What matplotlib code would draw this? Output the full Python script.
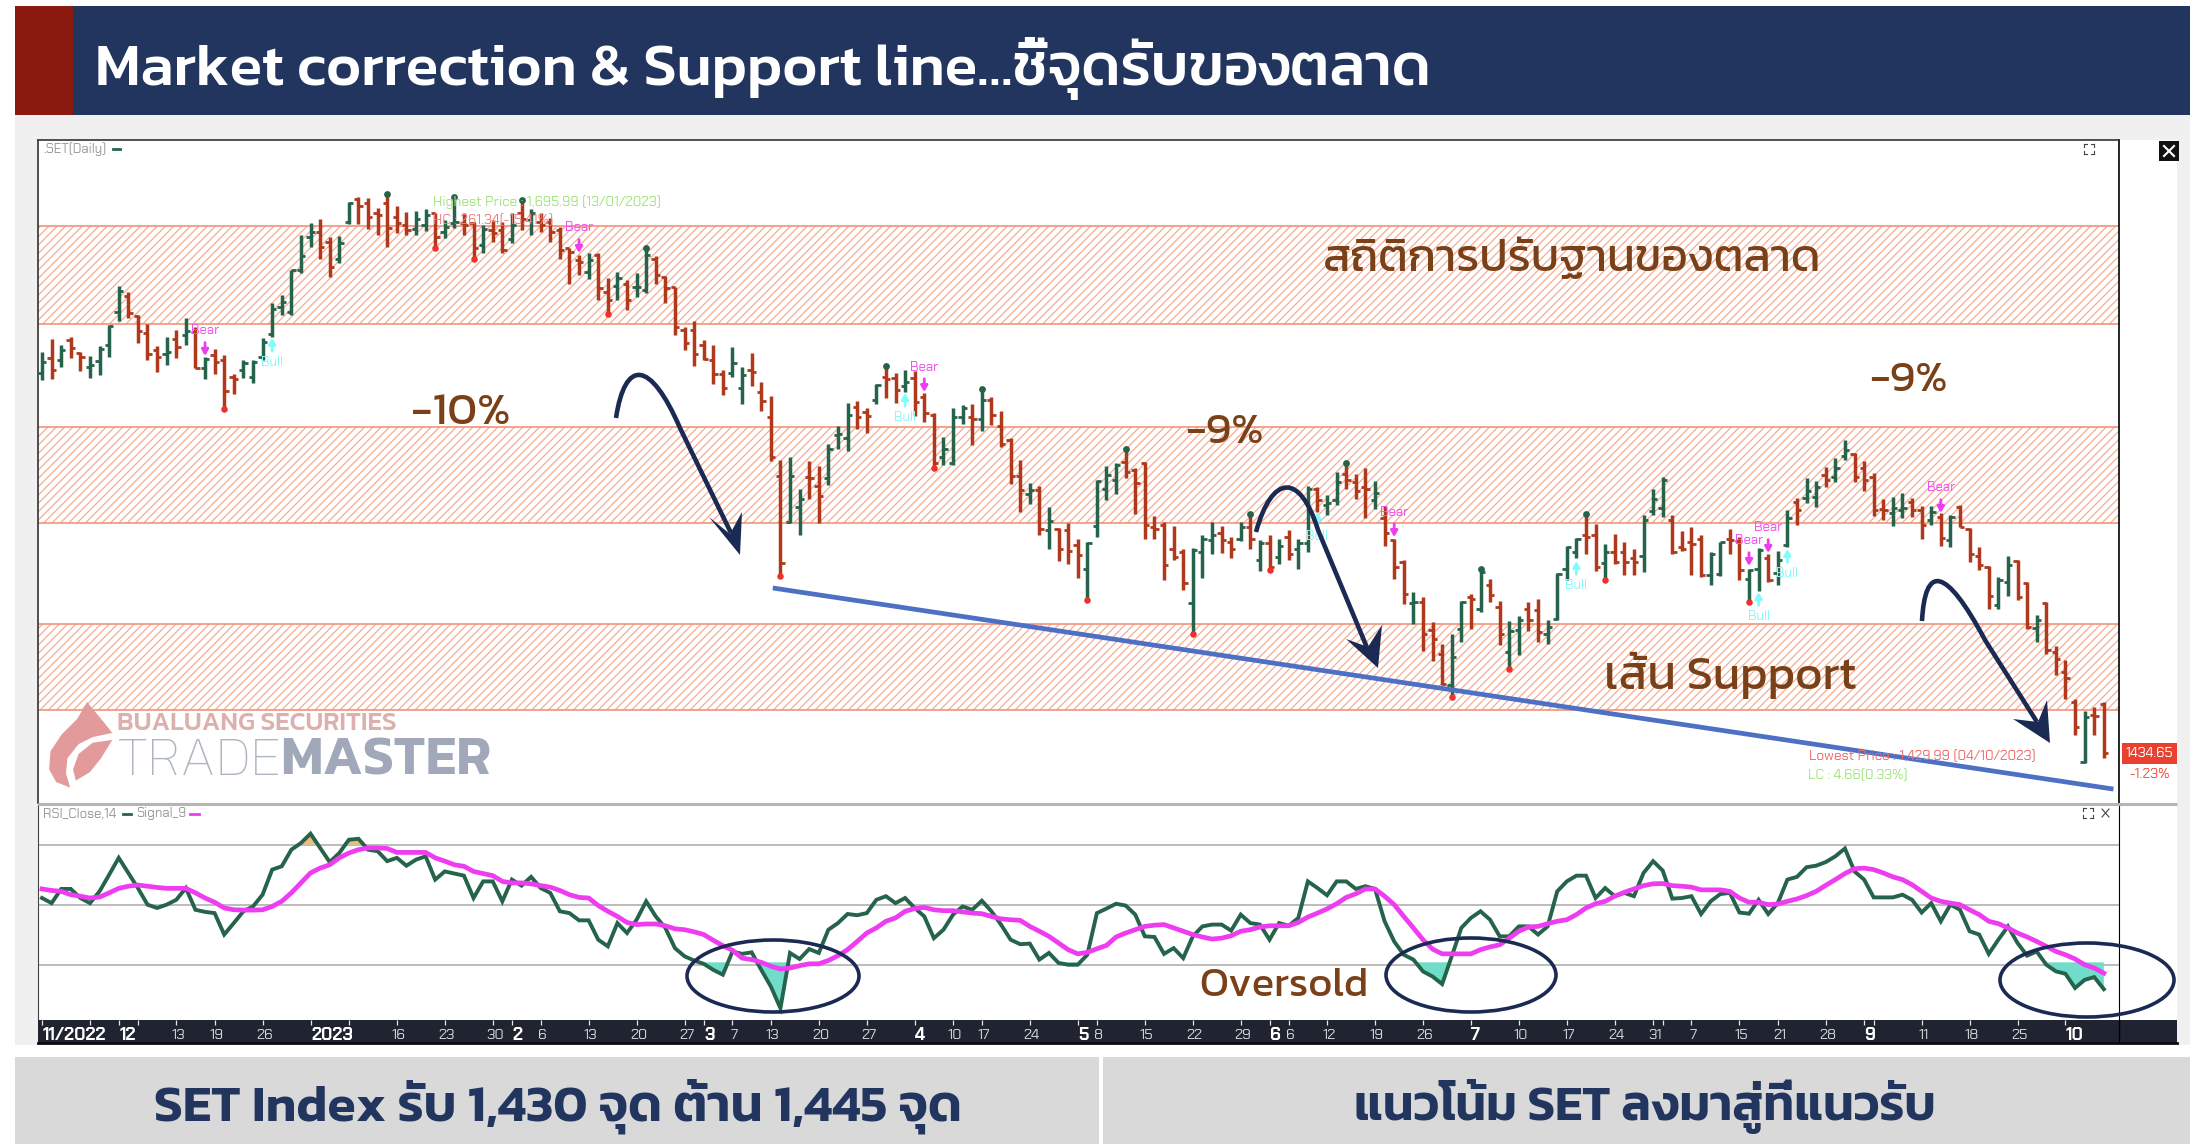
import matplotlib
matplotlib.use("Agg")
import matplotlib.pyplot as plt
import numpy as np
from matplotlib.patches import Ellipse, PathPatch, Polygon, Rectangle
from matplotlib.path import Path

FONT = ["Kanit", "Noto Sans", "DejaVu Sans"]
SMALL_FONT = ["Chakra Petch", "Roboto", "DejaVu Sans"]
plt.rcParams["font.family"] = FONT
plt.rcParams["hatch.linewidth"] = 0.9

W, H = 2202, 1144
NAVY = "#22355f"
ARROW_NAVY = "#1b2a52"
BROWN = "#7a4119"
GREEN = "#25634a"
RED = "#b0391b"
MAGENTA = "#ee3cf0"
CYAN = "#7ffcfc"

# open, high, low, close of the daily bars
OPENS = [
    1612.3, 1619.3, 1618.6, 1627.9, 1621.7, 1615.1, 1618.0, 1625.3, 1640.9, 1648.2, 1638.9, 1631.2,
    1623.0, 1621.4, 1628.4, 1630.0, 1631.5, 1614.4, 1620.6, 1618.3, 1610.5, 1613.6, 1610.5, 1619.8,
    1630.7, 1643.2, 1640.9, 1660.4, 1675.7, 1678.3, 1673.6, 1665.8, 1683.0, 1693.5, 1691.6, 1686.9,
    1691.9, 1685.0, 1681.4, 1679.4, 1681.4, 1686.9, 1678.3, 1682.2, 1682.5, 1682.2, 1672.1, 1679.1,
    1679.1, 1674.7, 1686.9, 1683.8, 1683.0, 1683.0, 1679.1, 1670.5, 1665.1, 1659.6, 1667.4, 1650.2,
    1652.9, 1654.1, 1652.3, 1651.0, 1665.8, 1657.3, 1652.6, 1632.3, 1632.3, 1625.3, 1618.3, 1612.0,
    1612.1, 1605.1, 1613.7, 1603.5, 1591.8, 1564.0, 1542.7, 1549.7, 1563.7, 1559.4, 1563.4, 1583.2,
    1581.7, 1596.5, 1594.2, 1599.9, 1610.5, 1609.8, 1606.2, 1609.8, 1601.2, 1592.6, 1572.8, 1570.0,
    1591.8, 1591.8, 1591.0, 1599.6, 1587.5, 1580.9, 1564.0, 1555.9, 1557.5, 1538.8, 1539.6, 1538.8,
    1531.8, 1520.9, 1540.7, 1558.3, 1562.2, 1570.8, 1566.9, 1570.0, 1540.4, 1541.2, 1530.2, 1528.7,
    1505.0, 1528.7, 1534.1, 1537.3, 1533.4, 1534.9, 1540.4, 1524.8, 1532.6, 1526.3, 1535.7, 1530.2,
    1532.6, 1558.3, 1550.5, 1552.9, 1565.3, 1561.4, 1559.1, 1552.9, 1544.3, 1534.1, 1524.0, 1504.8,
    1505.3, 1492.0, 1481.1, 1466.3, 1492.8, 1507.6, 1502.2, 1513.1, 1503.0, 1481.9, 1492.3, 1502.2,
    1501.4, 1490.5, 1497.5, 1520.9, 1528.7, 1536.5, 1536.5, 1523.5, 1528.7, 1528.7, 1525.6, 1526.7,
    1547.9, 1549.4, 1543.5, 1531.0, 1533.4, 1534.9, 1517.8, 1518.5, 1534.9, 1533.8, 1516.2, 1520.9,
    1525.6, 1518.6, 1531.9, 1552.2, 1553.7, 1554.5, 1564.6, 1563.9, 1573.5, 1574.5, 1567.8, 1563.9,
    1548.6, 1546.7, 1548.3, 1552.2, 1548.3, 1543.6, 1545.1, 1534.2, 1549.8, 1539.4, 1526.7, 1521.7,
    1503.8, 1514.7, 1524.6, 1513.9, 1492.9, 1504.6, 1482.0, 1472.6, 1458.6, 1430.5, 1452.3, 1457.8,
]
HIGHS = [
    1622.2, 1628.2, 1625.3, 1629.2, 1622.2, 1620.1, 1625.0, 1634.6, 1652.9, 1650.2, 1639.6, 1635.4,
    1625.0, 1629.2, 1632.6, 1638.2, 1633.9, 1619.8, 1623.7, 1620.6, 1612.0, 1618.3, 1618.6, 1628.7,
    1645.1, 1648.7, 1660.4, 1677.0, 1682.5, 1684.1, 1675.7, 1676.4, 1692.4, 1694.7, 1693.9, 1689.2,
    1695.99, 1690.3, 1687.7, 1688.1, 1688.8, 1687.2, 1683.8, 1694.4, 1686.9, 1683.0, 1681.4, 1683.8,
    1683.0, 1686.9, 1693.1, 1688.8, 1686.9, 1684.6, 1680.7, 1670.5, 1667.4, 1668.5, 1668.5, 1656.5,
    1659.6, 1655.7, 1658.8, 1670.5, 1666.9, 1657.6, 1652.6, 1633.9, 1636.7, 1627.9, 1625.3, 1613.6,
    1624.3, 1615.2, 1621.5, 1608.2, 1601.6, 1571.8, 1572.8, 1558.3, 1571.2, 1569.0, 1579.3, 1587.5,
    1598.1, 1599.3, 1595.7, 1607.1, 1615.5, 1612.4, 1613.7, 1613.3, 1603.1, 1593.7, 1582.5, 1595.7,
    1597.3, 1597.6, 1604.6, 1600.9, 1594.5, 1581.7, 1571.8, 1560.9, 1559.5, 1549.7, 1540.0, 1542.2,
    1534.9, 1533.4, 1562.2, 1568.8, 1570.0, 1577.0, 1567.7, 1570.8, 1545.5, 1542.7, 1540.7, 1530.2,
    1530.7, 1536.5, 1542.7, 1540.7, 1535.7, 1542.7, 1546.6, 1534.1, 1536.5, 1534.5, 1539.1, 1534.5,
    1559.4, 1559.1, 1555.2, 1566.1, 1570.0, 1565.3, 1567.7, 1561.9, 1550.2, 1534.5, 1524.8, 1510.0,
    1507.6, 1495.9, 1485.5, 1490.5, 1505.7, 1509.2, 1520.9, 1515.9, 1505.7, 1496.4, 1498.6, 1505.3,
    1506.8, 1496.7, 1518.9, 1531.3, 1535.4, 1546.6, 1541.6, 1532.3, 1536.9, 1533.4, 1530.2, 1545.8,
    1558.3, 1563.8, 1545.8, 1538.5, 1540.1, 1536.5, 1528.4, 1533.4, 1539.6, 1535.7, 1520.9, 1530.7,
    1527.9, 1529.2, 1548.3, 1553.7, 1563.4, 1561.8, 1568.2, 1572.4, 1581.0, 1575.1, 1571.3, 1565.4,
    1553.2, 1554.5, 1556.4, 1553.7, 1550.1, 1550.1, 1547.0, 1545.9, 1550.6, 1539.7, 1531.1, 1522.0,
    1517.0, 1526.7, 1524.9, 1514.7, 1499.1, 1505.4, 1484.6, 1478.0, 1460.1, 1454.3, 1456.2, 1458.6,
]
LOWS = [
    1609.2, 1609.5, 1615.1, 1619.3, 1613.3, 1610.1, 1611.2, 1619.8, 1636.7, 1637.8, 1626.1, 1618.6,
    1612.8, 1615.9, 1619.2, 1625.6, 1614.4, 1609.7, 1612.0, 1595.6, 1602.7, 1610.1, 1607.7, 1618.3,
    1628.9, 1639.3, 1639.6, 1659.1, 1671.3, 1665.8, 1657.0, 1663.5, 1681.9, 1681.9, 1679.4, 1677.0,
    1671.3, 1677.5, 1676.8, 1676.8, 1678.6, 1670.5, 1675.2, 1679.9, 1676.8, 1665.8, 1668.2, 1673.6,
    1668.5, 1672.9, 1679.1, 1676.8, 1678.3, 1673.6, 1665.4, 1654.1, 1658.0, 1656.2, 1646.3, 1640.1,
    1646.6, 1641.7, 1647.9, 1649.8, 1653.8, 1645.1, 1630.0, 1623.0, 1615.4, 1618.3, 1607.0, 1601.9,
    1610.5, 1597.7, 1606.3, 1594.6, 1571.2, 1517.6, 1542.2, 1536.4, 1553.6, 1542.2, 1559.9, 1577.0,
    1575.8, 1585.9, 1584.3, 1597.7, 1600.4, 1598.5, 1603.5, 1592.1, 1589.5, 1568.1, 1569.2, 1569.2,
    1588.4, 1578.6, 1585.3, 1587.9, 1577.5, 1560.3, 1547.4, 1551.2, 1536.8, 1530.2, 1524.4, 1522.9,
    1516.7, 1506.0, 1535.7, 1552.9, 1555.7, 1563.0, 1546.2, 1534.9, 1534.5, 1515.7, 1525.1, 1511.0,
    1490.1, 1516.7, 1527.6, 1528.2, 1526.0, 1533.8, 1529.8, 1519.6, 1520.1, 1522.9, 1525.1, 1520.9,
    1528.7, 1547.4, 1545.8, 1550.5, 1557.9, 1553.6, 1544.3, 1548.5, 1531.3, 1516.2, 1504.5, 1494.8,
    1482.3, 1477.7, 1466.3, 1460.8, 1486.6, 1492.8, 1500.6, 1505.3, 1485.0, 1473.8, 1480.3, 1491.7,
    1486.6, 1485.8, 1496.7, 1515.7, 1525.6, 1527.9, 1519.8, 1515.4, 1522.9, 1517.8, 1517.8, 1519.3,
    1545.8, 1544.8, 1527.6, 1529.1, 1517.8, 1517.0, 1513.1, 1517.3, 1527.9, 1515.4, 1505.3, 1510.4,
    1514.6, 1513.2, 1530.8, 1541.2, 1551.7, 1549.5, 1559.2, 1561.5, 1571.4, 1561.5, 1557.3, 1545.5,
    1543.6, 1540.9, 1544.4, 1545.1, 1534.5, 1541.2, 1531.4, 1531.1, 1540.1, 1524.1, 1520.2, 1501.8,
    1502.2, 1508.2, 1506.1, 1492.6, 1486.6, 1480.9, 1471.0, 1460.1, 1443.0, 1429.99, 1443.0, 1432.5,
]
CLOSES = [
    1617.5, 1613.9, 1623.0, 1624.0, 1619.8, 1616.2, 1623.7, 1634.3, 1650.5, 1640.4, 1632.0, 1621.4,
    1619.8, 1622.2, 1624.5, 1632.0, 1614.8, 1619.0, 1617.5, 1603.9, 1609.4, 1617.0, 1617.5, 1626.8,
    1642.4, 1645.6, 1660.4, 1666.9, 1678.3, 1671.3, 1662.0, 1672.9, 1691.6, 1690.3, 1685.0, 1686.1,
    1679.9, 1682.2, 1679.1, 1684.1, 1686.1, 1675.7, 1680.7, 1683.0, 1681.4, 1670.5, 1679.4, 1677.5,
    1669.7, 1681.4, 1684.1, 1686.9, 1681.4, 1678.3, 1669.7, 1669.0, 1664.3, 1665.1, 1651.8, 1646.3,
    1656.5, 1646.3, 1652.6, 1667.4, 1658.0, 1651.8, 1633.9, 1626.1, 1621.1, 1619.0, 1612.0, 1605.5,
    1617.1, 1611.3, 1612.9, 1599.3, 1572.8, 1523.5, 1564.0, 1553.6, 1563.0, 1554.7, 1577.0, 1584.0,
    1592.6, 1591.5, 1592.1, 1606.6, 1609.3, 1604.3, 1608.2, 1598.8, 1593.4, 1570.0, 1577.0, 1591.5,
    1595.7, 1591.0, 1599.9, 1592.6, 1579.3, 1564.0, 1557.8, 1557.5, 1539.6, 1543.1, 1530.2, 1529.1,
    1527.1, 1532.9, 1561.9, 1564.6, 1569.2, 1566.1, 1560.7, 1541.2, 1539.6, 1522.4, 1526.3, 1514.2,
    1529.5, 1534.9, 1536.5, 1534.1, 1530.2, 1540.4, 1534.9, 1532.9, 1521.7, 1531.3, 1527.9, 1532.6,
    1558.3, 1552.9, 1551.6, 1561.4, 1562.2, 1557.2, 1558.3, 1556.0, 1537.3, 1521.7, 1509.2, 1505.3,
    1490.5, 1488.1, 1467.0, 1479.5, 1505.3, 1506.8, 1519.3, 1508.4, 1490.5, 1491.7, 1496.7, 1496.7,
    1491.2, 1493.6, 1518.5, 1531.0, 1534.9, 1535.7, 1521.7, 1528.7, 1524.0, 1524.0, 1524.0, 1543.5,
    1553.6, 1562.5, 1528.7, 1530.2, 1532.3, 1517.8, 1527.9, 1533.4, 1534.4, 1520.1, 1520.1, 1529.5,
    1515.4, 1524.9, 1544.4, 1548.3, 1557.3, 1559.2, 1562.3, 1567.8, 1576.3, 1563.9, 1562.3, 1548.3,
    1548.3, 1549.0, 1549.0, 1548.3, 1541.2, 1547.5, 1535.0, 1545.1, 1540.5, 1527.7, 1522.5, 1508.2,
    1515.5, 1522.5, 1507.7, 1493.7, 1496.8, 1482.7, 1478.8, 1469.5, 1446.9, 1451.5, 1451.9, 1434.65,
]

# RSI(14) and its 9 day signal, one value per bar
RSI = [
    52.3, 50.6, 55.3, 55.3, 52.3, 50.6, 54.5, 60.0, 65.6, 60.6, 55.6, 50.1, 49.0, 50.1, 51.7, 55.6, 48.4, 47.7,
    47.3, 40.2, 44.0, 47.9, 49.5, 53.4, 61.7, 62.8, 68.3, 70.5, 73.6, 68.9, 64.2, 67.2, 71.6, 71.9, 68.3, 67.8,
    64.5, 65.6, 63.0, 65.0, 66.1, 58.4, 61.1, 60.4, 59.7, 52.3, 57.8, 57.8, 51.2, 58.4, 56.4, 59.3, 55.6, 54.0,
    47.9, 47.3, 44.9, 44.9, 38.5, 36.3, 44.0, 40.7, 45.1, 51.2, 46.2, 42.4, 35.7, 33.0, 31.6, 30.5, 28.5, 26.9,
    34.6, 33.8, 34.3, 28.5, 23.0, 15.8, 34.1, 32.1, 35.4, 34.1, 41.8, 44.0, 47.0, 46.6, 47.3, 51.7, 52.9, 50.6,
    52.3, 49.0, 46.2, 39.0, 41.8, 46.8, 49.5, 48.4, 51.4, 47.9, 43.5, 38.5, 37.0, 37.2, 31.9, 34.1, 30.8, 30.2,
    30.2, 33.5, 47.3, 48.8, 50.4, 49.8, 46.8, 39.6, 39.4, 33.8, 35.7, 32.4, 39.6, 42.9, 43.5, 43.5, 41.5, 46.8,
    44.0, 43.5, 38.5, 44.0, 43.1, 45.7, 57.8, 55.6, 53.2, 57.8, 57.8, 55.3, 56.2, 55.3, 44.6, 37.9, 33.5, 31.9,
    28.0, 26.3, 23.8, 33.0, 42.4, 45.7, 47.9, 45.1, 39.6, 39.6, 42.9, 42.9, 40.2, 42.9, 54.5, 57.8, 59.7, 59.7,
    52.3, 55.6, 52.9, 54.0, 52.9, 60.6, 64.5, 61.4, 52.1, 52.3, 52.9, 47.0, 51.2, 53.6, 54.0, 47.5, 47.1, 51.7,
    47.0, 50.6, 58.4, 59.3, 62.5, 63.0, 64.2, 66.1, 68.7, 61.1, 58.4, 52.5, 52.5, 52.5, 53.4, 51.7, 47.5, 50.6,
    44.6, 50.1, 48.4, 41.3, 40.2, 33.8, 38.5, 42.9, 37.4, 33.2, 34.6, 30.2, 28.0, 27.2, 22.5, 25.2, 26.1, 22.1,
]
SIGNAL = [
    55.3, 54.8, 54.5, 53.4, 52.9, 52.3, 52.6, 54.0, 55.5, 56.2, 56.6, 56.2, 55.8, 55.5, 55.5, 55.5, 54.0, 52.3,
    50.9, 49.0, 48.4, 48.3, 48.3, 48.4, 49.5, 51.2, 54.0, 57.3, 60.6, 62.2, 63.3, 65.6, 67.2, 68.3, 68.9, 68.9,
    68.7, 67.4, 67.4, 67.4, 67.4, 65.6, 64.5, 63.3, 62.8, 61.1, 60.4, 59.7, 57.8, 57.3, 57.3, 57.0, 56.4, 55.9,
    54.8, 53.4, 52.5, 52.3, 49.8, 47.9, 46.2, 44.2, 43.5, 43.7, 43.7, 43.1, 42.1, 41.8, 41.1, 40.2, 38.3, 36.5,
    35.0, 32.4, 31.9, 31.0, 29.7, 28.8, 29.1, 29.9, 30.5, 30.5, 31.6, 33.2, 35.2, 37.9, 40.7, 42.4, 44.6, 45.7,
    47.9, 48.8, 49.2, 48.4, 48.1, 48.1, 47.7, 47.3, 47.1, 46.2, 45.4, 45.1, 44.9, 42.9, 41.3, 39.6, 37.4, 35.2,
    33.8, 34.3, 35.5, 36.6, 39.4, 40.7, 41.8, 42.9, 43.3, 43.5, 42.4, 41.3, 40.2, 39.4, 38.7, 39.0, 39.8, 41.3,
    41.8, 42.7, 43.1, 43.1, 43.1, 44.2, 46.0, 47.3, 48.7, 50.4, 52.5, 53.7, 55.3, 55.3, 52.9, 50.1, 46.2, 42.4,
    38.5, 35.4, 33.8, 33.8, 33.8, 33.8, 35.2, 36.1, 36.8, 39.0, 41.3, 42.7, 42.9, 43.8, 44.6, 45.1, 46.8, 49.0,
    50.4, 51.2, 52.9, 54.2, 55.3, 56.4, 57.0, 57.1, 56.4, 56.2, 55.9, 55.0, 55.0, 55.0, 54.5, 52.3, 50.9, 50.9,
    50.1, 50.3, 51.2, 52.0, 53.1, 54.5, 56.5, 58.4, 60.4, 62.0, 62.2, 61.7, 60.6, 59.3, 58.4, 56.7, 54.5, 52.3,
    51.2, 50.6, 50.1, 48.4, 46.8, 44.6, 43.8, 42.4, 40.7, 39.4, 37.9, 36.3, 34.6, 33.5, 32.1, 30.2, 29.1, 27.4,
]
RSI_LEVELS = [70, 50, 30]

# hatched correction bands (low, high)
BANDS = [(1635, 1681), (1542, 1587), (1455, 1495)]

# swing markers on the price pane
LOW_DOTS = [19, 41, 45, 59, 77, 93, 109, 120, 128, 147, 153, 163, 178]
HIGH_DOTS = [36, 43, 50, 63, 88, 98, 113, 126, 136, 150, 161]
BEAR_BARS = [17, 56, 92, 141, 178, 180, 198]
BEAR_TIPS = [1620.3, 1668.4, 1603.4, 1535.6, 1522.1, 1528.2, 1546.9]
BULL_BARS = [24, 90, 133, 160, 179, 182]
BULL_TIPS = [1628.7, 1603.0, 1547.3, 1524.4, 1509.9, 1530.0]

# support line drawn by hand on the price pane
SUPPORT_BARS = [76.2, 216.0]
SUPPORT_PRICES = [1511.8, 1417.8]

# date axis
TICK_BARS = [0, 5, 8, 10, 14, 18, 23, 28, 32, 37, 42, 47, 49, 52, 57, 62, 67, 69, 72, 76, 81, 86, 91, 95, 98,
             103, 108, 110, 115, 120, 125, 128, 130, 134, 139, 144, 149, 154, 159, 164, 168, 169, 172, 177,
             181, 186, 190, 191, 196, 201, 206, 211]
TICK_LABELS = ["11/2022", "", "12", "", "13", "19", "26", "2023", "", "16", "23", "30", "2", "6", "13", "20", "27",
               "3", "7", "13", "20", "27", "4", "10", "17", "24", "5", "8", "15", "22", "29", "6", "6", "12", "19",
               "26", "7", "10", "17", "24", "31", "", "7", "15", "21", "28", "9", "", "11", "18", "25", "10"]
BOLD_BARS = {0, 8, 28, 49, 69, 91, 108, 128, 149, 190, 211}

BAR0_PX, BAR_STEP = 42.0, 9.59
PANE_LEFT, PANE_RIGHT = 38, 2119
STRIP_RIGHT = 2177


def pane(left, top, right, bottom, **kw):
    return fig.add_axes([left / W, 1 - bottom / H, (right - left) / W, (bottom - top) / H], **kw)


def curved_arrow(ax, start, c1, c2, mid, end, tip, wing_a, notch, wing_b):
    verts = [start, c1, c2, mid, end]
    codes = [Path.MOVETO, Path.CURVE4, Path.CURVE4, Path.CURVE4, Path.LINETO]
    ax.add_patch(PathPatch(Path(verts, codes), fc="none", ec=ARROW_NAVY, lw=3.3, capstyle="butt", zorder=8))
    ax.add_patch(Polygon([tip, wing_a, notch, wing_b], closed=True, fc=ARROW_NAVY, ec="none", zorder=8))


def expand_icon(ax, x, y):
    for sx in (-1, 1):
        for sy in (-1, 1):
            ax.plot([x + sx * 5, x + sx * 2], [y + sy * 5, y + sy * 5], color="#444444", lw=0.8)
            ax.plot([x + sx * 5, x + sx * 5], [y + sy * 5, y + sy * 2], color="#444444", lw=0.8)


fig = plt.figure(figsize=(W / 100, H / 100), dpi=100, facecolor="white")

# slide background
bg = fig.add_axes([0, 0, 1, 1], zorder=0)
bg.set_xlim(0, W)
bg.set_ylim(H, 0)
bg.axis("off")
bg.add_patch(Rectangle((15, 115), 2175, 930, fc="#f0f0f0", ec="none"))
bg.add_patch(Rectangle((15, 6), 58, 109, fc="#8a1a10", ec="none"))
bg.add_patch(Rectangle((73, 6), 2117, 109, fc=NAVY, ec="none"))
bg.add_patch(Rectangle((15, 1057), 1084, 87, fc="#d9d9d9", ec="none"))
bg.add_patch(Rectangle((1103, 1057), 1087, 87, fc="#d9d9d9", ec="none"))
bg.add_patch(Rectangle((PANE_LEFT, 140), STRIP_RIGHT - PANE_LEFT, 905, fc="white", ec="none"))

xlim = ((PANE_LEFT - BAR0_PX) / BAR_STEP, (PANE_RIGHT - BAR0_PX) / BAR_STEP)
bars = np.arange(len(CLOSES))
opens, highs, lows, closes = map(np.array, (OPENS, HIGHS, LOWS, CLOSES))
colors = np.where(closes >= opens, GREEN, RED)

# price pane
ax = pane(PANE_LEFT, 140, PANE_RIGHT, 803, zorder=1)
ax.set_xlim(*xlim)
ax.set_ylim(1411.3, 1721.2)
ax.set_xticks([])
ax.set_yticks([])
for name, spine in ax.spines.items():
    spine.set_color("#333333")
    spine.set_linewidth(1.2)
ax.spines["bottom"].set_visible(False)
ax.spines["right"].set_color("black")

for low, high in BANDS:
    ax.axhspan(low, high, facecolor="none", edgecolor="#f6ab92", hatch="////", lw=0, zorder=1)
    ax.axhline(low, color="#f2947a", lw=1.2, zorder=1.5)
    ax.axhline(high, color="#f2947a", lw=1.2, zorder=1.5)

ax.vlines(bars, lows, highs, colors=colors, lw=2.5, zorder=3)
ax.hlines(opens, bars - 0.45, bars, colors=colors, lw=2.0, zorder=3)
ax.hlines(closes, bars, bars + 0.45, colors=colors, lw=2.0, zorder=3)
ax.scatter(bars[LOW_DOTS], lows[LOW_DOTS], s=22, color="#f0302a", zorder=4, linewidths=0)
ax.scatter(bars[HIGH_DOTS], highs[HIGH_DOTS], s=24, color=GREEN, zorder=4, linewidths=0)

for bar, tip in zip(BEAR_BARS, BEAR_TIPS):
    ax.annotate("", xy=(bar, tip), xytext=(bar, tip + 6.2), zorder=5,
                arrowprops=dict(arrowstyle="-|>,head_width=0.2,head_length=0.35", color=MAGENTA, lw=2,
                                shrinkA=0, shrinkB=0))
    ax.annotate("Bear", xy=(bar, tip), xytext=(0, 18), textcoords="offset points", ha="center", va="center",
                color="#f050f0", fontsize=9.5, family=SMALL_FONT, zorder=5)
for bar, tip in zip(BULL_BARS, BULL_TIPS):
    ax.annotate("", xy=(bar, tip), xytext=(bar, tip - 6.2), zorder=5,
                arrowprops=dict(arrowstyle="-|>,head_width=0.2,head_length=0.35", color=CYAN, lw=2,
                                shrinkA=0, shrinkB=0))
    ax.annotate("Bull", xy=(bar, tip), xytext=(0, -17.5), textcoords="offset points", ha="center", va="center",
                color="#8af8fa", fontsize=9.5, family=SMALL_FONT, zorder=5)

ax.plot(SUPPORT_BARS, SUPPORT_PRICES, color="#4d6fc4", lw=3.4, solid_capstyle="butt", zorder=6)

# RSI pane
ax2 = pane(PANE_LEFT, 805, PANE_RIGHT, 1020, zorder=1)
ax2.set_xlim(*xlim)
ax2.set_ylim(11.9, 83.1)
ax2.set_xticks([])
ax2.set_yticks([])
for name, spine in ax2.spines.items():
    spine.set_visible(name in ("left", "right"))
    spine.set_color("#444444" if name == "left" else "black")
for level in RSI_LEVELS:
    ax2.axhline(level, color="#aaaaaa", lw=1.1, zorder=1)
rsi = np.array(RSI)
signal = np.array(SIGNAL)
ax2.fill_between(bars, rsi, 31, where=rsi < 31, interpolate=True, color="#72dccb", lw=0, zorder=2)
ax2.fill_between(bars, rsi, 70, where=rsi > 70, interpolate=True, color="#f2bd7c", lw=0, zorder=2)
ax2.plot(bars, rsi, color=GREEN, lw=2.8, zorder=3, solid_joinstyle="miter")
ax2.plot(bars, signal, color=MAGENTA, lw=3.4, zorder=4)

# date strip
ax3 = pane(PANE_LEFT, 1020, STRIP_RIGHT, 1043, zorder=1, facecolor="#1f2430")
ax3.set_xlim(xlim[0], xlim[0] + (STRIP_RIGHT - PANE_LEFT) / BAR_STEP)
ax3.set_ylim(0, 1)
ax3.set_yticks([])
ax3.set_xticks([])
for spine in ax3.spines.values():
    spine.set_visible(False)
ax3.spines["bottom"].set_visible(True)
ax3.spines["bottom"].set_color("#0a0c10")
ax3.spines["bottom"].set_linewidth(2)
ax3.vlines(TICK_BARS, 0.78, 1.0, color="#e8e8e8", lw=0.9)
ax3.axvline(xlim[1], color="black", lw=1)
for bar, label in zip(TICK_BARS, TICK_LABELS):
    if not label:
        continue
    if bar in BOLD_BARS:
        ax3.text(bar + 0.05, 0.34, label, color="white", fontsize=12.5, fontweight="bold", ha="left", va="center",
                 family=SMALL_FONT)
    else:
        ax3.text(bar + 0.2, 0.34, label, color="#d6d8dc", fontsize=10.5, ha="center", va="center", family=SMALL_FONT)

# everything laid over the panes, in picture pixels
top = fig.add_axes([0, 0, 1, 1], zorder=5)
top.set_xlim(0, W)
top.set_ylim(H, 0)
top.axis("off")
top.patch.set_alpha(0)

top.plot([PANE_LEFT, STRIP_RIGHT], [804, 804], color="#b5b5b5", lw=2.2, solid_capstyle="butt")

top.text(95, 69, "Market correction & Support line…ชี้จุดรับของตลาด", color="white", fontsize=43,
         fontweight="medium", ha="left", va="center")
top.text(558, 1106, "SET Index รับ 1,430 จุด ต้าน 1,445 จุด", color=NAVY, fontsize=37.3, fontweight="semibold",
         ha="center", va="center")
top.text(1645, 1106, "แนวโน้ม SET ลงมาสู่ที่แนวรับ", color=NAVY, fontsize=35.7, fontweight="semibold",
         ha="center", va="center")

top.text(1572, 259, "สถิติการปรับฐานของตลาด", color=BROWN, fontsize=33, ha="center", va="center")
top.text(461, 413, "-10%", color=BROWN, fontsize=33, ha="center", va="center")
top.text(1224, 433, "-9%", color=BROWN, fontsize=32, ha="center", va="center")
top.text(1908, 381, "-9%", color=BROWN, fontsize=32, ha="center", va="center")
top.text(1730, 675, "เส้น Support", color=BROWN, fontsize=34, ha="center", va="center")
top.text(1284, 986, "Oversold", color=BROWN, fontsize=30, ha="center", va="center")

top.text(43, 149, ".SET(Daily)", color="#9a9a9a", fontsize=9.5, ha="left", va="center", family=SMALL_FONT)
top.plot([113, 120], [149, 149], color=GREEN, lw=2)
top.text(43, 814, "RSI_Close,14", color="#9a9a9a", fontsize=9.5, ha="left", va="center", family=SMALL_FONT)
top.plot([123, 131], [814, 814], color=GREEN, lw=2)
top.text(136, 814, "Signal_9", color="#9a9a9a", fontsize=9.5, ha="left", va="center", family=SMALL_FONT)
top.plot([190, 199], [814, 814], color=MAGENTA, lw=2)

top.text(433, 202, "Highest Price : 1,695.99 (13/01/2023)", color="#a2e47e", fontsize=9.9, ha="left", va="center",
         family=SMALL_FONT)
top.text(433, 221, "HC : 261.34(-15.41%)", color="#f08080", fontsize=9.9, ha="left", va="center", family=SMALL_FONT)
top.text(1809, 757, "Lowest Price : 1,429.99 (04/10/2023)", color="#f06a6a", fontsize=9.9, ha="left", va="center",
         family=SMALL_FONT)
top.text(1808, 776, "LC : 4.66(0.33%)", color="#a2e47e", fontsize=9.9, ha="left", va="center", family=SMALL_FONT)

top.add_patch(Rectangle((2122, 743), 55, 21, fc="#e8412f", ec="none"))
top.text(2149.5, 753.5, "1434.65", color="white", fontsize=10, ha="center", va="center", family=SMALL_FONT)
top.text(2149, 775, "-1.23%", color="#f0503c", fontsize=10, ha="center", va="center", family=SMALL_FONT)

top.add_patch(Rectangle((2159, 141), 20, 20, fc="#111111", ec="none"))
top.plot([2164, 2174], [146, 156], color="white", lw=1.5)
top.plot([2164, 2174], [156, 146], color="white", lw=1.5)
expand_icon(top, 2089, 149)
expand_icon(top, 2088, 813)
top.plot([2102, 2109], [809, 817], color="#444444", lw=0.8)
top.plot([2102, 2109], [817, 809], color="#444444", lw=0.8)

curved_arrow(top, (616, 418), (625, 359), (650, 359), (680, 428), (731, 533),
             (740, 555), (742, 512), (730, 534), (709, 517))
curved_arrow(top, (1256, 532), (1272, 474), (1300, 472), (1318, 530), (1368, 650),
             (1378, 668), (1382, 625), (1368, 647), (1346, 639))
curved_arrow(top, (1922, 621), (1925, 565), (1945, 565), (1985, 640), (2037, 722),
             (2050, 743), (2047, 700), (2038, 722), (2013, 719))

for cx, cy, rx, ry in [(773, 976, 86, 36), (1471, 975, 85, 37), (2087, 980, 87, 37)]:
    top.add_patch(Ellipse((cx, cy), 2 * rx, 2 * ry, fc="none", ec=ARROW_NAVY, lw=2.6, zorder=8))

# watermark logo
scale = 1.404
flame = [(62, 500), (55, 512), (44, 523), (36, 535), (35, 548), (40, 557), (50, 561), (47, 551), (48, 540), (56, 530),
         (66, 525), (80, 522), (72, 512)]
swoosh = [(80, 527), (66, 529), (56, 537), (52, 548), (54, 556), (64, 550), (72, 540)]
for shape in (flame, swoosh):
    top.add_patch(Polygon([(x * scale, y * scale) for x, y in shape], closed=True, fc="#e39a9a", ec="none", zorder=2))
top.text(117, 724, "BUALUANG SECURITIES", color="#dcb0ac", fontsize=18.8, fontweight="medium", ha="left", va="center")
top.text(117, 762, "TRADE", color="#aeb5c0", fontsize=40, fontweight="light", ha="left", va="center")
top.text(280, 762, "MASTER", color="#a0a8b9", fontsize=40, fontweight="semibold", ha="left", va="center")

fig.savefig("out.png", dpi=100)
